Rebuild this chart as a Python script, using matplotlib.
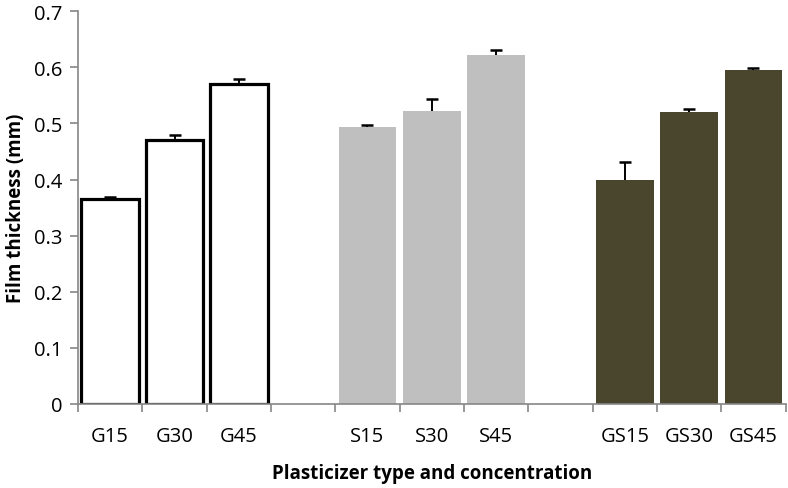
import numpy as np
import matplotlib
matplotlib.use("Agg")
import matplotlib.pyplot as plt

plt.rcParams['font.family'] = ['Open Sans', 'DejaVu Sans']

# data
labels = ["G15", "G30", "G45", "", "S15", "S30", "S45", "", "GS15", "GS30", "GS45"]
g_vals = [0.365, 0.470, 0.570]
g_err = [0.004, 0.010, 0.010]
s_vals = [0.493, 0.522, 0.622]
s_err = [0.005, 0.022, 0.009]
gs_vals = [0.399, 0.520, 0.595]
gs_err = [0.032, 0.006, 0.003]

fig = plt.figure(figsize=(7.88, 4.89), dpi=100)
ax = fig.add_axes([0.099, 0.172, 0.898, 0.803])

w = 0.9
x_g = np.arange(0, 3)
x_s = np.arange(4, 7)
x_gs = np.arange(8, 11)

ax.bar(x_g, g_vals, width=w, color="white", edgecolor="black", linewidth=2.3, zorder=2)
ax.bar(x_s, s_vals, width=w, color="#BFBFBF", edgecolor="none", zorder=2)
ax.bar(x_gs, gs_vals, width=w, color="#4A452D", edgecolor="none", zorder=2)

# upper error bars only, with a cap on top
for xs, vals, errs in [(x_g, g_vals, g_err), (x_s, s_vals, s_err), (x_gs, gs_vals, gs_err)]:
    vals = np.array(vals)
    errs = np.array(errs)
    ax.vlines(xs, vals, vals + errs, color="black", linewidth=1.4, zorder=3)
    ax.plot(xs, vals + errs, linestyle="none", marker="_", markersize=8,
            markeredgewidth=1.8, color="black", zorder=3)

ax.set_xlim(-0.5, len(labels) - 0.5)
ax.set_ylim(0, 0.7)
ax.set_yticks(np.arange(0, 0.71, 0.1))
ax.set_yticklabels(["0"] + ["%.1f" % v for v in np.arange(0.1, 0.71, 0.1)])

ax.set_xticks(np.arange(len(labels)))
ax.set_xticklabels(labels)
ax.set_xticks(np.arange(-0.5, len(labels), 1.0), minor=True)
ax.tick_params(axis="x", which="major", length=0, pad=16, labelsize=14.5)
ax.tick_params(axis="x", which="minor", length=6, color="#868686", width=1.2)
ax.tick_params(axis="y", length=6, color="#868686", width=1.2, labelsize=14.5, pad=5)

for s in ["top", "right"]:
    ax.spines[s].set_visible(False)
for s in ["left", "bottom"]:
    ax.spines[s].set_color("#868686")
    ax.spines[s].set_linewidth(1.2)

ax.set_xlabel("Plasticizer type and concentration", fontsize=13.5, fontweight="bold", labelpad=12)
ax.set_ylabel("Film thickness (mm)", fontsize=13.5, fontweight="bold", labelpad=6)

fig.savefig("out.png", dpi=100)
